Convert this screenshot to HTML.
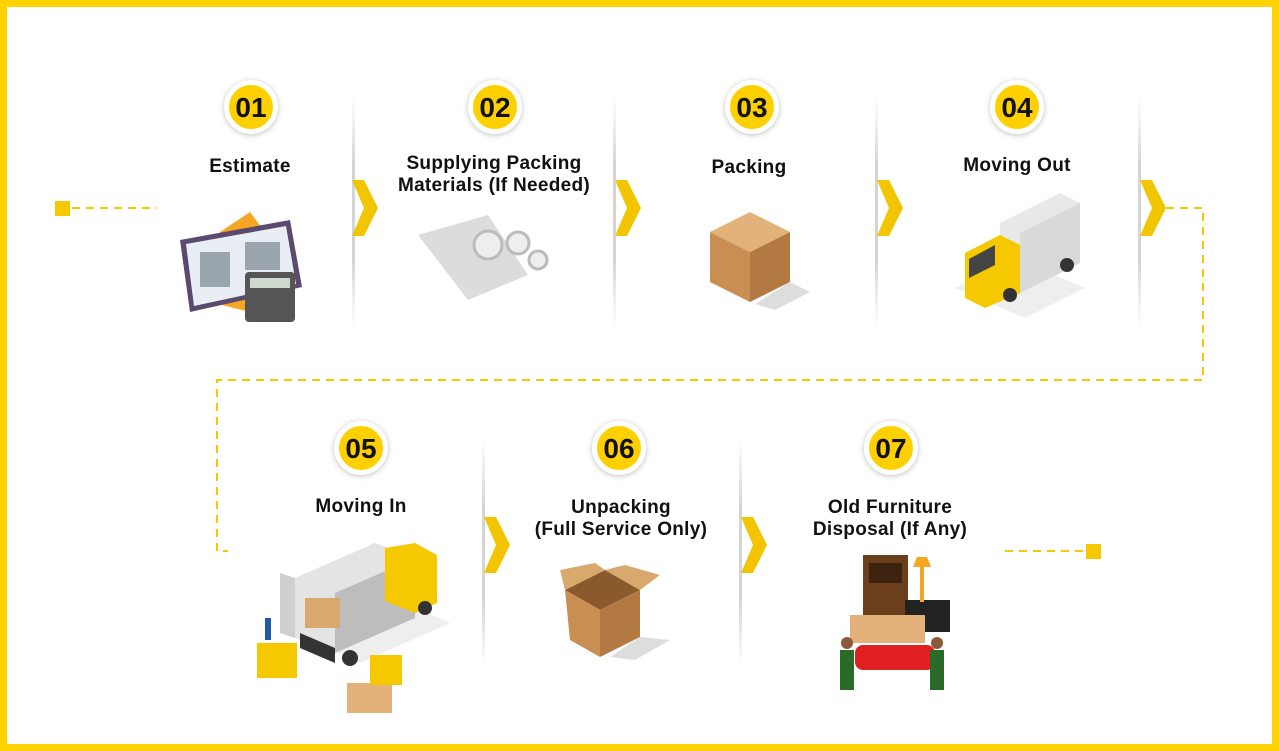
<!DOCTYPE html>
<html><head><meta charset="utf-8"><style>
html,body{margin:0;padding:0}
body{width:1279px;height:751px;position:relative;background:#fff;overflow:hidden;font-family:"Liberation Sans",sans-serif}
.frame{position:absolute;left:0;top:0;width:1265px;height:737px;border:7px solid #FFD200}
.num{position:absolute;width:44px;height:44px;border-radius:50%;background:#FFD000;border:5px solid #fff;box-shadow:0 1px 6px rgba(0,0,0,.25);text-align:center;line-height:45px;font-weight:bold;font-size:28px;color:#111;transform:translate(-27px,-27px);font-family:"Liberation Sans Narrow","Liberation Sans",sans-serif}
.lbl{position:absolute;transform:translateX(-50%);text-align:center;font-weight:bold;font-size:18px;line-height:22px;color:#111;white-space:nowrap;font-family:"Liberation Sans Narrow","Liberation Sans",sans-serif;font-size:19px;letter-spacing:.3px}
</style></head><body>
<div class="frame"></div>
<svg width="1279" height="751" style="position:absolute;left:0;top:0">
<defs><linearGradient id="sep" x1="0" y1="0" x2="0" y2="1"><stop offset="0" stop-color="#ddd" stop-opacity="0"/><stop offset=".3" stop-color="#d4d4d4"/><stop offset=".7" stop-color="#d4d4d4"/><stop offset="1" stop-color="#ddd" stop-opacity="0"/></linearGradient></defs>
<g fill="url(#sep)">
<rect x="352" y="95" width="3" height="235"/><rect x="613" y="95" width="3" height="235"/><rect x="875" y="95" width="3" height="235"/><rect x="1138" y="95" width="3" height="235"/>
<rect x="482" y="435" width="3" height="235"/><rect x="739" y="435" width="3" height="235"/>
</g>
<g fill="#F2C500">
<polygon points="352,180 364,180 378,208 364,236 352,236 364,208"/>
<polygon points="615,180 627,180 641,208 627,236 615,236 627,208"/>
<polygon points="877,180 889,180 903,208 889,236 877,236 889,208"/>
<polygon points="1140,180 1152,180 1166,208 1152,236 1140,236 1152,208"/>
<polygon points="484,517 496,517 510,545 496,573 484,573 496,545"/>
<polygon points="741,517 753,517 767,545 753,573 741,573 753,545"/>
</g>
<g stroke="#F5C800" stroke-width="2" stroke-dasharray="8,6" fill="none">
<path d="M72 208H157"/>
<path d="M1166 208H1203V380H217V551H228"/>
<path d="M1005 551H1085"/>
</g>
<rect x="55" y="201" width="15" height="15" fill="#F5C800"/>
<rect x="1086" y="544" width="15" height="15" fill="#F5C800"/>
<g transform="translate(180,212)">
<polygon points="40,20 70,0 100,40 70,100 30,90" fill="#F5A623"/>
<polygon points="0,28 110,8 122,75 10,100" fill="#5a4a6e"/>
<polygon points="6,32 106,14 116,72 14,94" fill="#e8eef3"/>
<rect x="20" y="40" width="30" height="35" fill="#9aa5ae"/><rect x="65" y="30" width="35" height="28" fill="#9aa5ae"/>
<rect x="65" y="60" width="50" height="50" rx="4" fill="#555"/><rect x="70" y="66" width="40" height="10" fill="#cfd8cf"/>
</g>
<g transform="translate(418,215)">
<polygon points="0,20 70,0 110,60 50,85" fill="#dcdcdc"/>
<circle cx="70" cy="30" r="14" fill="#eee" stroke="#bbb" stroke-width="3"/>
<circle cx="100" cy="28" r="11" fill="#eee" stroke="#bbb" stroke-width="3"/>
<circle cx="120" cy="45" r="9" fill="#eee" stroke="#bbb" stroke-width="3"/>
</g>
<g transform="translate(710,212)">
<polygon points="0,20 40,0 80,20 40,40" fill="#e2b27a"/>
<polygon points="0,20 40,40 40,90 0,70" fill="#c98f52"/>
<polygon points="40,40 80,20 80,70 40,90" fill="#b27a42"/>
<polygon points="45,92 80,70 100,80 65,98" fill="#ddd"/>
</g>
<g transform="translate(955,193)">
<polygon points="0,95 60,65 130,95 70,125" fill="#eee"/>
<polygon points="45,30 105,0 125,10 125,70 65,100 45,90" fill="#e8e8e8"/>
<polygon points="65,40 125,10 125,70 65,100" fill="#d9d9d9"/>
<polygon points="10,60 45,42 65,52 65,100 30,115 10,105" fill="#F5C800"/>
<polygon points="14,66 40,52 40,72 14,85" fill="#444"/>
<circle cx="55" cy="102" r="7" fill="#333"/><circle cx="112" cy="72" r="7" fill="#333"/>
</g>
<!-- Moving in truck -->
<g transform="translate(255,543)">
<polygon points="60,100 150,60 195,80 105,120" fill="#eee"/>
<polygon points="40,35 120,0 160,15 160,75 80,110 40,95" fill="#e4e4e4"/>
<polygon points="80,50 160,15 160,75 80,110" fill="#bdbdbd"/>
<polygon points="25,30 40,35 40,95 25,90" fill="#cfcfcf"/>
<polygon points="45,90 80,105 80,120 45,105" fill="#333"/>
<polygon points="130,5 160,0 182,12 182,60 160,70 130,58" fill="#F5C800"/>
<rect x="50" y="55" width="35" height="30" fill="#d9a86c"/>
<circle cx="95" cy="115" r="8" fill="#333"/><circle cx="170" cy="65" r="7" fill="#333"/>
<rect x="10" y="75" width="6" height="22" fill="#1f5aa8"/>
<rect x="2" y="100" width="40" height="35" fill="#F5C800"/>
<rect x="92" y="140" width="45" height="30" fill="#e2b27a"/>
<rect x="115" y="112" width="32" height="30" fill="#F5C800"/>
</g>
<g transform="translate(565,565)">
<polygon points="0,25 40,5 75,25 35,45" fill="#8a5a2c"/>
<polygon points="0,25 35,45 35,92 5,75" fill="#c98f52"/>
<polygon points="35,45 75,25 75,72 35,92" fill="#b27a42"/>
<polygon points="0,25 -5,5 30,-2 40,5" fill="#d9a86c"/>
<polygon points="75,25 95,10 60,0 40,5" fill="#d9a86c"/>
<polygon points="75,72 105,75 70,95 45,92" fill="#ddd"/>
</g>
<g transform="translate(835,555)">
<rect x="28" y="0" width="45" height="65" fill="#6b3e1c"/><rect x="34" y="8" width="33" height="20" fill="#3c220f"/>
<rect x="70" y="45" width="45" height="32" fill="#222"/>
<rect x="85" y="12" width="4" height="35" fill="#F5A623"/><polygon points="78,12 96,12 92,2 82,2" fill="#F5A623"/>
<rect x="15" y="60" width="75" height="28" fill="#e2b27a"/>
<rect x="20" y="90" width="80" height="25" rx="8" fill="#e02020"/>
<rect x="5" y="95" width="14" height="40" fill="#2a6b2a"/><circle cx="12" cy="88" r="6" fill="#8a5a3a"/>
<rect x="95" y="95" width="14" height="40" fill="#2a6b2a"/><circle cx="102" cy="88" r="6" fill="#8a5a3a"/>
</g>
</svg>
<div class="num" style="left:251px;top:107px">01</div>
<div class="num" style="left:495px;top:107px">02</div>
<div class="num" style="left:752px;top:107px">03</div>
<div class="num" style="left:1017px;top:107px">04</div>
<div class="num" style="left:361px;top:448px">05</div>
<div class="num" style="left:619px;top:448px">06</div>
<div class="num" style="left:891px;top:448px">07</div>
<div class="lbl" style="left:250px;top:156px">Estimate</div>
<div class="lbl" style="left:494px;top:153px">Supplying Packing<br>Materials (If Needed)</div>
<div class="lbl" style="left:749px;top:157px">Packing</div>
<div class="lbl" style="left:1017px;top:155px">Moving Out</div>
<div class="lbl" style="left:361px;top:496px">Moving In</div>
<div class="lbl" style="left:621px;top:497px">Unpacking<br>(Full Service Only)</div>
<div class="lbl" style="left:890px;top:497px">Old Furniture<br>Disposal (If Any)</div>
</body></html>
